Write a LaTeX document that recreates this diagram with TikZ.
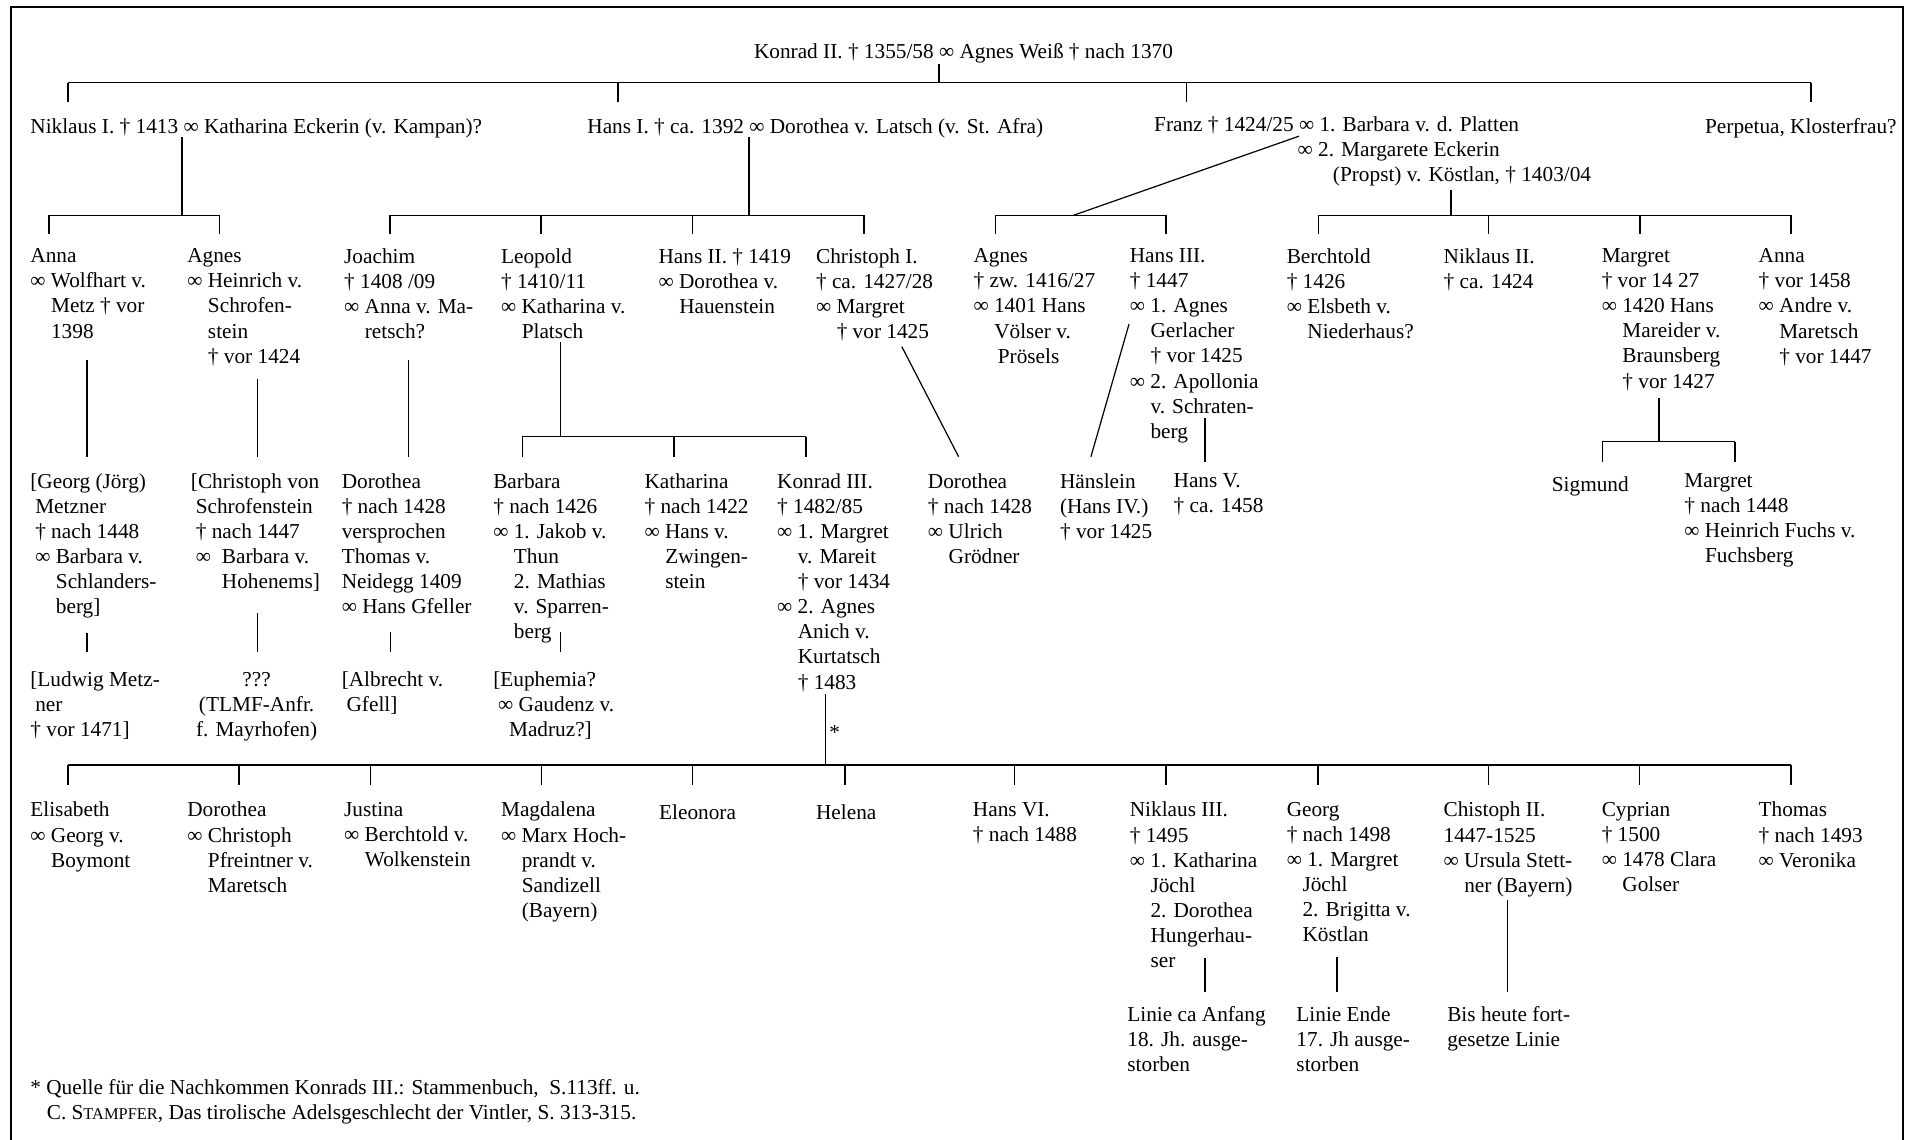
\documentclass[tikz,border=0pt]{standalone}
\usepackage{fontspec}
\setmainfont{Liberation Serif}
\newcommand\vind{\hspace*{17pt}}
\begin{document}
\begin{tikzpicture}[x=1pt,y=-1pt,
  font=\fontsize{17.5}{20.6}\selectfont,
  person/.style={anchor=north west, inner sep=0pt, outer sep=0pt, align=left, yshift=14.42pt, execute at begin node=\strut},
  link/.style={line width=1.2pt},
  diag/.style={line width=1pt},
  frame/.style={line width=1.6pt}]
\useasboundingbox (0,0) rectangle (1568,937);
\draw[frame] (9.2,950) -- (9.2,5.5) -- (1565,5.5) -- (1565,950);

% ---------- generation 0 ----------
\node[person] (konrad) at (620,48) {Konrad II. † 1355/58 ∞ Agnes Weiß † nach 1370};

% ---------- generation 1 ----------
\node[person] (niklaus1) at (25,110) {Niklaus I. † 1413 ∞ Katharina Eckerin (v. Kampan)?};
\node[person] (hans1) at (483,110) {Hans I. † ca. 1392 ∞ Dorothea v. Latsch (v. St. Afra)};
\node[person] (franz) at (949,110) {Franz † 1424/25 ∞ 1. Barbara v. d. Platten\\\hspace*{118pt}∞ 2. Margarete Eckerin\\\hspace*{147pt}(Propst) v. Köstlan, † 1403/04};
\node[person] (perpetua) at (1402,110) {Perpetua, Klosterfrau?};

% ---------- generation 2 ----------
\node[person] (anna1) at (25,219) {Anna\\∞ Wolfhart v.\\\vind Metz † vor\\\vind 1398};
\node[person] (agnes1) at (154,219) {Agnes\\∞ Heinrich v.\\\vind Schrofen-\\\vind stein\\\vind † vor 1424};
\node[person] (joachim) at (283,219) {Joachim\\† 1408 /09\\∞ Anna v. Ma-\\\vind retsch?};
\node[person] (leopold) at (412,219) {Leopold\\† 1410/11\\∞ Katharina v.\\\vind Platsch};
\node[person] (hans2) at (541.5,219) {Hans II. † 1419\\∞ Dorothea v.\\\vind Hauenstein};
\node[person] (christoph1) at (671,219) {Christoph I.\\† ca. 1427/28\\∞ Margret\\\vind † vor 1425};
\node[person] (agnes2) at (800.5,219) {Agnes\\† zw. 1416/27\\∞ 1401 Hans\\\vind Völser v.\\\vind\hspace*{3pt}Prösels};
\node[person] (hans3) at (929,219) {Hans III.\\† 1447\\∞ 1. Agnes\\\vind Gerlacher\\\vind † vor 1425\\∞ 2. Apollonia\\\vind v. Schraten-\\\vind berg};
\node[person] (berchtold) at (1058,219) {Berchtold\\† 1426\\∞ Elsbeth v.\\\vind Niederhaus?};
\node[person] (niklaus2) at (1187,219) {Niklaus II.\\† ca. 1424};
\node[person] (margret1) at (1317,219) {Margret\\† vor 14 27\\∞ 1420 Hans\\\vind Mareider v.\\\vind Braunsberg\\\vind † vor 1427};
\node[person] (anna2) at (1446,219) {Anna\\† vor 1458\\∞ Andre v.\\\vind Maretsch\\\vind † vor 1447};

% ---------- generation 3 ----------
\node[person] (georg1) at (25,404) {[Georg (Jörg)\\\hspace*{4pt}Metzner\\\hspace*{4pt}† nach 1448\\\hspace*{4pt}∞ Barbara v.\\\hspace*{21pt}Schlanders-\\\hspace*{21pt}berg]};
\node[person] (christoph2) at (157,404) {[Christoph von\\\hspace*{4pt}Schrofenstein\\\hspace*{4pt}† nach 1447\\\hspace*{4pt}∞\hspace*{9pt}Barbara v.\\\hspace*{25.5pt}Hohenems]};
\node[person] (dorothea1) at (281,404) {Dorothea\\† nach 1428\\versprochen\\Thomas v.\\Neidegg 1409\\∞ Hans Gfeller};
\node[person] (barbara) at (405.6,404) {Barbara\\† nach 1426\\∞ 1. Jakob v.\\\vind Thun\\\vind 2. Mathias\\\vind v. Sparren-\\\vind berg};
\node[person] (katharina) at (530,404) {Katharina\\† nach 1422\\∞ Hans v.\\\vind Zwingen-\\\vind stein};
\node[person] (konrad3) at (639,404) {Konrad III.\\† 1482/85\\∞ 1. Margret\\\vind v. Mareit\\\vind † vor 1434\\∞ 2. Agnes\\\vind Anich v.\\\vind Kurtatsch\\\vind † 1483};
\node[person] (dorothea2) at (763,404) {Dorothea\\† nach 1428\\∞ Ulrich\\\vind Grödner};
\node[person] (haenslein) at (871.6,404) {Hänslein\\(Hans IV.)\\† vor 1425};
\node[person] (hans5) at (965,404) {Hans V.\\† ca. 1458};
\node[person] (sigmund) at (1276,404) {Sigmund};
\node[person] (margret2) at (1385,404) {Margret\\† nach 1448\\∞ Heinrich Fuchs v.\\\vind Fuchsberg};

% ---------- generation 4 ----------
\node[person] (ludwig) at (25,567) {[Ludwig Metz-\\\hspace*{4pt}ner\\† vor 1471]};
\node[person, anchor=north, align=center] (unknown) at (211,567) {???\\(TLMF-Anfr.\\f. Mayrhofen)};
\node[person] (albrecht) at (281,567) {[Albrecht v.\\\hspace*{4pt}Gfell]};
\node[person] (euphemia) at (405.6,567) {[Euphemia?\\\hspace*{4pt}∞ Gaudenz v.\\\hspace*{13pt}Madruz?]};
\node[person] (star) at (682,608) {*};

% ---------- children of Konrad III ----------
\node[person] (elisabeth) at (25,674) {Elisabeth\\∞ Georg v.\\\vind Boymont};
\node[person] (dorothea3) at (154,674) {Dorothea\\∞ Christoph\\\vind Pfreintner v.\\\vind Maretsch};
\node[person] (justina) at (283,674) {Justina\\∞ Berchtold v.\\\vind Wolkenstein};
\node[person] (magdalena) at (412,674) {Magdalena\\∞ Marx Hoch-\\\vind prandt v.\\\vind Sandizell\\\vind (Bayern)};
\node[person] (eleonora) at (542,674) {Eleonora};
\node[person] (helena) at (671,674) {Helena};
\node[person] (hans6) at (800,674) {Hans VI.\\† nach 1488};
\node[person] (niklaus3) at (929,674) {Niklaus III.\\† 1495\\∞ 1. Katharina\\\vind Jöchl\\\vind 2. Dorothea\\\vind Hungerhau-\\\vind ser};
\node[person] (georg2) at (1058,674) {Georg\\† nach 1498\\∞ 1. Margret\\\hspace*{13pt}Jöchl\\\hspace*{13pt}2. Brigitta v.\\\hspace*{13pt}Köstlan};
\node[person] (christoph3) at (1187,674) {Chistoph II.\\1447-1525\\∞ Ursula Stett-\\\vind ner (Bayern)};
\node[person] (cyprian) at (1317,674) {Cyprian\\† 1500\\∞ 1478 Clara\\\vind Golser};
\node[person] (thomas) at (1446,674) {Thomas\\† nach 1493\\∞ Veronika};

\node[person] (linie1) at (927,842) {Linie ca Anfang\\18. Jh. ausge-\\storben};
\node[person] (linie2) at (1066,842) {Linie Ende\\17. Jh ausge-\\storben};
\node[person] (linie3) at (1190,842) {Bis heute fort-\\gesetze Linie};

\node[person] (note) at (25,902) {* Quelle für die Nachkommen Konrads III.: Stammenbuch,\ \ S.113ff. u.\\\hspace*{13.5pt}C. S{\fontsize{13.5}{20.6}\selectfont TAMPFER}, Das tirolische Adelsgeschlecht der Vintler, S. 313-315.};

% ---------- connector points ----------
\coordinate (k-top) at (772,53);   \coordinate (k-bar) at (772,68);
\coordinate (niklaus1-in) at (56,84);  \coordinate (hans1-in) at (508,84);
\coordinate (franz-in) at (975.5,84);  \coordinate (perpetua-in) at (1489,84);

\coordinate (n1-top) at (149.5,113); \coordinate (n1-bar) at (149.5,177);
\coordinate (anna1-in) at (40.4,192); \coordinate (agnes1-in) at (180.6,192);

\coordinate (h1-top) at (616,113); \coordinate (h1-bar) at (616,177);
\coordinate (joachim-in) at (320.8,192); \coordinate (leopold-in) at (445,192);
\coordinate (hans2-in) at (569.6,192); \coordinate (christoph1-in) at (710.4,192);

\coordinate (f1-top) at (1068,112); \coordinate (f1-bar) at (882.7,177);
\coordinate (agnes2-in) at (818.7,192); \coordinate (hans3-in) at (958.7,192);

\coordinate (f2-top) at (1193,156); \coordinate (f2-bar) at (1193,177);
\coordinate (berchtold-in) at (1084,192); \coordinate (niklaus2-in) at (1224,192);
\coordinate (margret1-in) at (1348.6,192); \coordinate (anna2-in) at (1472.6,192);

\coordinate (a1-top) at (71.6,296);  \coordinate (georg1-in) at (71.6,375.5);
\coordinate (ag1-top) at (211.8,312); \coordinate (christoph2-in) at (211.8,375.5);
\coordinate (jo-top) at (336,296);   \coordinate (dorothea1-in) at (336,375.5);
\coordinate (le-top) at (461,281); \coordinate (le-bar) at (461,359);
\coordinate (barbara-in) at (429.5,375.5); \coordinate (katharina-in) at (554,375.5);
\coordinate (konrad3-in) at (662.8,375.5);
\coordinate (ch1-top) at (741.5,285); \coordinate (dorothea2-in) at (788.2,375.5);
\coordinate (h3-top) at (928.3,266.5); \coordinate (haenslein-in) at (897,375.5);
\coordinate (h3b-top) at (990.7,344); \coordinate (hans5-in) at (990.7,379.6);
\coordinate (m1-top) at (1364,327.5); \coordinate (m1-bar) at (1364,363.2);
\coordinate (sigmund-in) at (1317.6,379.6); \coordinate (margret2-in) at (1426.6,379.6);

\coordinate (g1-top) at (71.6,520.5); \coordinate (ludwig-in) at (71.6,536);
\coordinate (c2-top) at (211.8,504);  \coordinate (unknown-in) at (211.8,536);
\coordinate (d1-top) at (321.2,520);  \coordinate (albrecht-in) at (321.2,536);
\coordinate (b-top) at (461,520);     \coordinate (euphemia-in) at (461,536);

\coordinate (k3-top) at (678.8,571); \coordinate (k3-bar) at (678.8,629);
\coordinate (elisabeth-in) at (55.8,645.4); \coordinate (dorothea3-in) at (196.4,645.4);
\coordinate (justina-in) at (304.7,645.4); \coordinate (magdalena-in) at (445.2,645.4);
\coordinate (eleonora-in) at (569.5,645.4); \coordinate (helena-in) at (694.8,645.4);
\coordinate (hans6-in) at (834.2,645.4); \coordinate (niklaus3-in) at (958.7,645.4);
\coordinate (georg2-in) at (1083.8,645.4); \coordinate (christoph3-in) at (1224,645.4);
\coordinate (cyprian-in) at (1348,645.4); \coordinate (thomas-in) at (1472.6,645.4);

\coordinate (n3-top) at (990.7,788);  \coordinate (linie1-in) at (990.7,815.4);
\coordinate (g2-top) at (1099.3,787); \coordinate (linie2-in) at (1099.3,815.4);
\coordinate (c3-top) at (1239.5,740); \coordinate (linie3-in) at (1239.5,815.4);

% ---------- connectors ----------
\draw[link] (k-top) -- (k-bar);
\draw[link] (niklaus1-in |- k-bar) -- (perpetua-in |- k-bar);
\foreach \c in {niklaus1,hans1,franz,perpetua} \draw[link] (\c-in |- k-bar) -- (\c-in);

\draw[link] (n1-top) -- (n1-bar);
\draw[link] (anna1-in |- n1-bar) -- (agnes1-in |- n1-bar);
\foreach \c in {anna1,agnes1} \draw[link] (\c-in |- n1-bar) -- (\c-in);

\draw[link] (h1-top) -- (h1-bar);
\draw[link] (joachim-in |- h1-bar) -- (christoph1-in |- h1-bar);
\foreach \c in {joachim,leopold,hans2,christoph1} \draw[link] (\c-in |- h1-bar) -- (\c-in);

\draw[diag] (f1-top) -- (f1-bar);
\draw[link] (agnes2-in |- f1-bar) -- (hans3-in |- f1-bar);
\foreach \c in {agnes2,hans3} \draw[link] (\c-in |- f1-bar) -- (\c-in);

\draw[link] (f2-top) -- (f2-bar);
\draw[link] (berchtold-in |- f2-bar) -- (anna2-in |- f2-bar);
\foreach \c in {berchtold,niklaus2,margret1,anna2} \draw[link] (\c-in |- f2-bar) -- (\c-in);

\draw[link] (a1-top) -- (georg1-in);
\draw[link] (ag1-top) -- (christoph2-in);
\draw[link] (jo-top) -- (dorothea1-in);
\draw[link] (le-top) -- (le-bar);
\draw[link] (barbara-in |- le-bar) -- (konrad3-in |- le-bar);
\foreach \c in {barbara,katharina,konrad3} \draw[link] (\c-in |- le-bar) -- (\c-in);
\draw[diag] (ch1-top) -- (dorothea2-in);
\draw[diag] (h3-top) -- (haenslein-in);
\draw[link] (h3b-top) -- (hans5-in);
\draw[link] (m1-top) -- (m1-bar);
\draw[link] (sigmund-in |- m1-bar) -- (margret2-in |- m1-bar);
\foreach \c in {sigmund,margret2} \draw[link] (\c-in |- m1-bar) -- (\c-in);

\draw[link] (g1-top) -- (ludwig-in);
\draw[link] (c2-top) -- (unknown-in);
\draw[link] (d1-top) -- (albrecht-in);
\draw[link] (b-top) -- (euphemia-in);

\draw[link] (k3-top) -- (k3-bar);
\draw[link] (elisabeth-in |- k3-bar) -- (thomas-in |- k3-bar);
\foreach \c in {elisabeth,dorothea3,justina,magdalena,eleonora,helena,hans6,niklaus3,georg2,christoph3,cyprian,thomas}
  \draw[link] (\c-in |- k3-bar) -- (\c-in);

\draw[link] (n3-top) -- (linie1-in);
\draw[link] (g2-top) -- (linie2-in);
\draw[link] (c3-top) -- (linie3-in);
\end{tikzpicture}
\end{document}
